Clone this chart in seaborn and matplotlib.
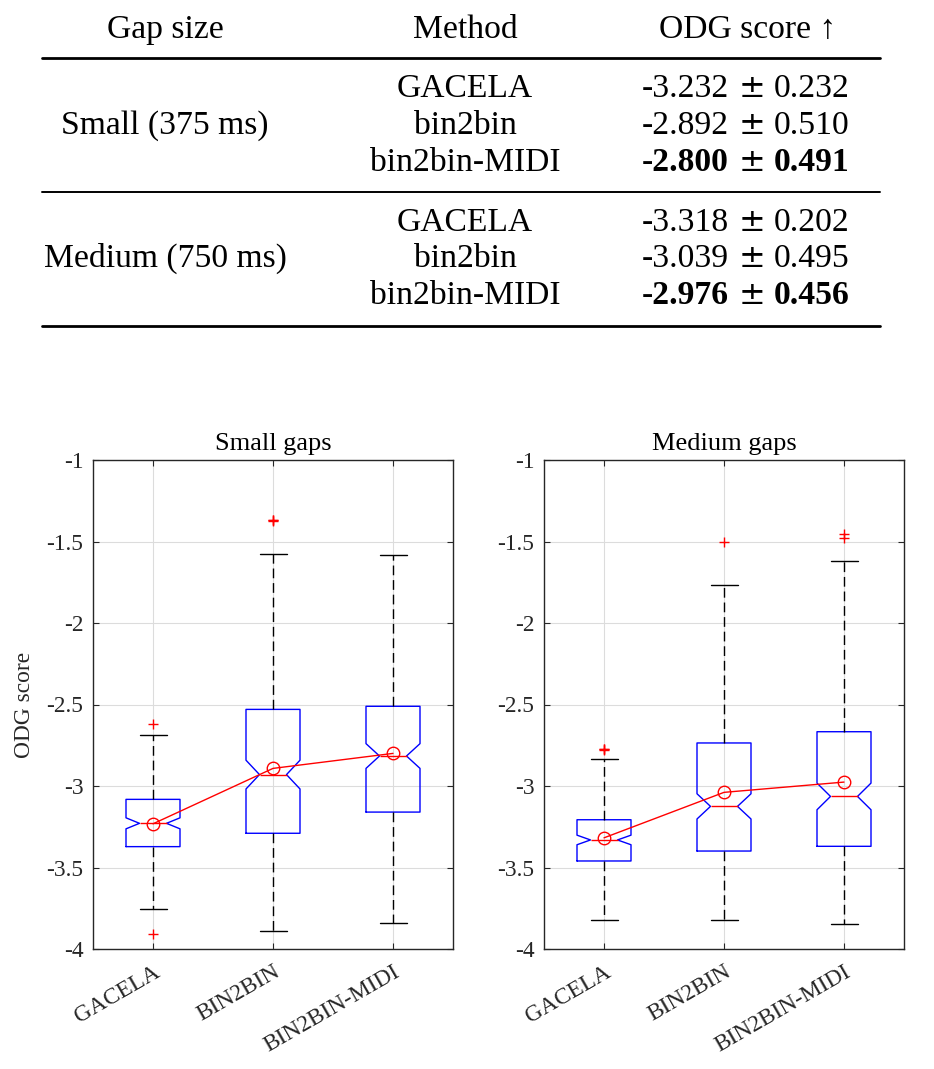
import numpy as np
import pandas as pd
import matplotlib
matplotlib.use("Agg")
import matplotlib.pyplot as plt
from matplotlib.lines import Line2D
import seaborn as sns

# ---------------- Table data ----------------
table_header = ["Gap size", "Method", "ODG score \u2191"]
gap_sizes = ["Small (375 ms)", "Medium (750 ms)"]
table_methods = ["GACELA", "bin2bin", "bin2bin-MIDI"]
small_mean = [-3.232, -2.892, -2.800]
small_std = [0.232, 0.510, 0.491]
medium_mean = [-3.318, -3.039, -2.976]
medium_std = [0.202, 0.495, 0.456]
best_index = 2

# ---------------- Box plot data (summaries) ----------------
box_labels = ["GACELA", "BIN2BIN", "BIN2BIN-MIDI"]
panel_titles = ["Small gaps", "Medium gaps"]

small_whislo = [-3.757, -3.892, -3.842]
small_q1 = [-3.372, -3.290, -3.160]
small_med = [-3.229, -2.930, -2.816]
small_q3 = [-3.082, -2.530, -2.511]
small_whishi = [-2.687, -1.579, -1.585]
small_fliers = [[-2.622, -3.908], [-1.366, -1.370, -1.373], []]

medium_whislo = [-3.824, -3.824, -3.847]
medium_q1 = [-3.460, -3.399, -3.370]
medium_med = [-3.331, -3.125, -3.064]
medium_q3 = [-3.207, -2.736, -2.667]
medium_whishi = [-2.837, -1.769, -1.622]
medium_fliers = [[-2.771, -2.775, -2.778], [-1.505], [-1.454, -1.477]]

n_per_value = 36  # observations per summary value (sets notch size)

yticks = [-4, -3.5, -3, -2.5, -2, -1.5, -1]
ytick_labels = ["-4", "-3.5", "-3", "-2.5", "-2", "-1.5", "-1"]


def build_frame(whislo, q1, med, q3, whishi, fliers):
    rows = []
    for i, lab in enumerate(box_labels):
        vals = ([whislo[i]] * n_per_value + [q1[i]] * n_per_value +
                [med[i]] * n_per_value + [q3[i]] * n_per_value +
                [whishi[i]] * n_per_value + list(fliers[i]))
        rows += [(lab, v) for v in vals]
    return pd.DataFrame(rows, columns=["method", "odg"])


sns.set_theme(style="white")
plt.rcParams["font.family"] = ["Liberation Serif", "DejaVu Serif"]
plt.rcParams["axes.edgecolor"] = "#262626"
plt.rcParams["text.color"] = "#000000"

W, H = 934, 1069
fig = plt.figure(figsize=(W / 100, H / 100), dpi=100)


def fx(px):
    return px / W


def fy(py):
    return 1 - py / H


# ---------------- Table ----------------
tfs = 24.2
fam = ["Liberation Serif", "DejaVu Serif"]
col_x = [165, 465, 748]
for c in range(3):
    fig.text(fx(col_x[c]), fy(38), table_header[c], ha="center", va="baseline",
             fontsize=tfs, family=fam)

for (py, lw) in [(57.7, 2.0), (192, 1.4), (325.7, 2.0)]:
    fig.add_artist(Line2D([fx(42), fx(880)], [fy(py), fy(py)], color="black", lw=lw))

group_rows = [[97, 134, 171], [231, 267, 304]]
group_means = [small_mean, medium_mean]
group_stds = [small_std, medium_std]
for g in range(2):
    fig.text(fx(col_x[0]), fy(group_rows[g][1]), gap_sizes[g], ha="center", va="baseline",
             fontsize=tfs, family=fam)
    for i in range(3):
        py = group_rows[g][i]
        weight = "bold" if i == best_index else "normal"
        fig.text(fx(col_x[1]), fy(py), table_methods[i], ha="center", va="baseline",
                 fontsize=tfs, family=fam)
        fig.text(fx(729), fy(py), f"{group_means[g][i]:.3f}", ha="right", va="baseline",
                 fontsize=tfs, family=fam, weight=weight)
        fig.text(fx(752.5), fy(py), "\u00b1", ha="center", va="baseline", fontsize=tfs * 0.95,
                 family=["DejaVu Serif"])
        fig.text(fx(774), fy(py), f"{group_stds[g][i]:.3f}", ha="left", va="baseline",
                 fontsize=tfs, family=fam, weight=weight)

# ---------------- Box plots ----------------
ax_left = fig.add_axes([fx(93), fy(949), 360 / W, 489 / H])
ax_right = fig.add_axes([fx(544), fy(949), 360 / W, 489 / H])

frames = [build_frame(small_whislo, small_q1, small_med, small_q3, small_whishi, small_fliers),
          build_frame(medium_whislo, medium_q1, medium_med, medium_q3, medium_whishi, medium_fliers)]
means_list = [small_mean, medium_mean]

for k, ax in enumerate([ax_left, ax_right]):
    sns.boxplot(data=frames[k], x="method", y="odg", order=box_labels, ax=ax,
                width=0.45, fill=False, whis=1.5, linewidth=1.0,
                shownotches=True, capwidths=0.225,
                boxprops=dict(color="#0000ff"),
                medianprops=dict(color="#ff0000"),
                whiskerprops=dict(color="black", linestyle=(0, (7, 3.5))),
                capprops=dict(color="black"),
                flierprops=dict(marker="+", markeredgecolor="#ff0000", markersize=7,
                                markeredgewidth=1.0))
    sns.pointplot(x=box_labels, y=means_list[k], order=box_labels, ax=ax,
                  color="#ff0000", errorbar=None, markers="o", linestyles="-",
                  markersize=9, markerfacecolor="none", markeredgecolor="#ff0000",
                  markeredgewidth=1.0, linewidth=1.0)
    ax.set_xlim(-0.5, 2.5)
    ax.set_ylim(-4, -1)
    ax.set_yticks(yticks, ytick_labels)
    ax.set_xticks([0, 1, 2], box_labels, rotation=30, ha="right", va="top",
                  rotation_mode="anchor")
    ax.set_xlabel("")
    ax.set_ylabel("ODG score" if k == 0 else "", fontsize=16.8, labelpad=8)
    ax.set_title(panel_titles[k], fontsize=19, pad=7)
    ax.grid(True, color="#dcdcdc", lw=0.8)
    ax.set_axisbelow(True)
    ax.tick_params(axis="both", direction="in", length=4, width=0.8, color="#262626",
                   labelsize=16.8, labelcolor="#262626", top=True, right=True,
                   left=True, bottom=True)
    ax.tick_params(axis="y", pad=7)
    ax.tick_params(axis="x", pad=9)
    for sp in ax.spines.values():
        sp.set_visible(True)
        sp.set_linewidth(1.0)
        sp.set_color("#262626")

fig.savefig("out.png", dpi=100)
